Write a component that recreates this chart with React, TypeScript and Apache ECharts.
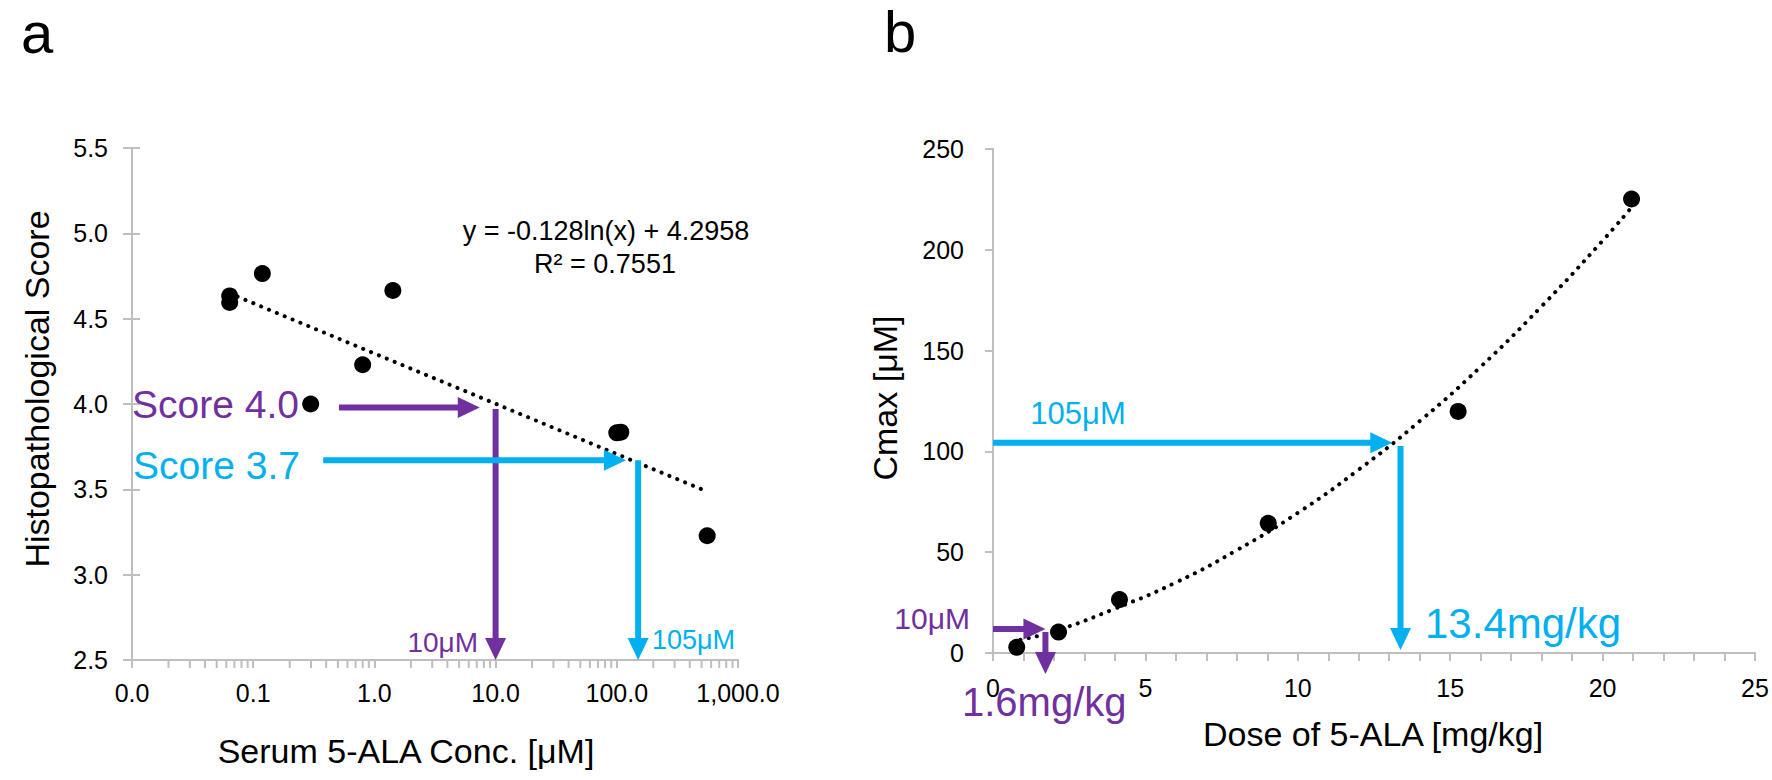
import React, { useEffect, useRef } from "react";
import * as echarts from "echarts";

const PURPLE = "#7030A0";
const BLUE = "#00B0F0";
const AXIS = "#BFBFBF";
const TEXT = "#000000";
const FONT = "'Liberation Sans', Arial, Helvetica, sans-serif";

// ---------- Panel a: Histopathological score vs serum 5-ALA conc. ----------
const concA = [0.064, 0.064, 0.119, 0.298, 0.8, 1.42, 100, 108, 557];
const scoreA = [4.633, 4.595, 4.764, 4.0, 4.23, 4.665, 3.831, 3.835, 3.228];
// logarithmic trend line end points
const trendAX = [0.064, 548];
const trendAY = [4.648, 3.489];
// log axis: decades and minor tick multipliers
const decadesA = [0.01, 0.1, 1, 10, 100];
const minorMultipliers = [2, 3, 4, 5, 6, 7, 8, 9];
const yTicksA = { min: 2.5, max: 5.5, step: 0.5 };
// arrows: [x1, y1, x2, y2]
const purpleArrowsA = [
  [0.51, 3.98, 7.4, 3.98],
  [10, 3.97, 10, 2.5],
];
const blueArrowsA = [
  [0.378, 3.67, 119, 3.67],
  [150, 3.67, 150, 2.5],
];

// ---------- Panel b: Cmax vs dose ----------
const doseB = [0.78, 2.15, 4.15, 9.03, 15.26, 20.95];
const cmaxB = [2.8, 10.4, 26.5, 64.3, 119.8, 225.2];
// polynomial trend curve
const trendBX = [0.9, 2, 4, 6, 8, 10, 12, 14, 16, 18, 20, 21];
const trendBY = [6.6, 10.7, 22, 35, 51, 69.5, 91, 115, 142, 172, 204.5, 222];
const xTicksB = { min: 0, max: 25, step: 5 };
const yTicksB = { min: 0, max: 250, step: 50 };
const purpleArrowsB = [
  [0, 11.9, 1.72, 11.9],
  [1.72, 10.4, 1.72, -10.4],
];
const blueArrowsB = [
  [0, 104.3, 13.1, 104.3],
  [13.37, 102.7, 13.37, 1.5],
];

const zip = (a: number[], b: number[]) => a.map((v, i) => [v, b[i]]);

function arrowRender(color: string) {
  return (_params: any, api: any) => {
    const p1 = api.coord([api.value(0), api.value(1)]);
    const p2 = api.coord([api.value(2), api.value(3)]);
    const dx = p2[0] - p1[0];
    const dy = p2[1] - p1[1];
    const len = Math.hypot(dx, dy) || 1;
    const ux = dx / len;
    const uy = dy / len;
    const nx = -uy;
    const ny = ux;
    const HL = 22;
    const HW = 21;
    const SW = 6;
    const bx = p2[0] - ux * HL;
    const by = p2[1] - uy * HL;
    return {
      type: "group",
      children: [
        {
          type: "line",
          shape: { x1: p1[0], y1: p1[1], x2: bx + ux * 2, y2: by + uy * 2 },
          style: { stroke: color, lineWidth: SW },
        },
        {
          type: "polygon",
          shape: {
            points: [
              [p2[0], p2[1]],
              [bx + (nx * HW) / 2, by + (ny * HW) / 2],
              [bx - (nx * HW) / 2, by - (ny * HW) / 2],
            ],
          },
          style: { fill: color },
        },
      ],
    };
  };
}

const txt = (
  text: string,
  x: number,
  y: number,
  size: number,
  color: string,
  align: string = "left",
  rotation = 0
) => ({
  type: "text",
  x,
  y,
  rotation,
  z: 10,
  style: {
    text,
    x: 0,
    y: 0,
    fill: color,
    fontSize: size,
    fontFamily: FONT,
    align,
    verticalAlign: "middle",
  },
});

const fmtA = (v: number) =>
  Number(v).toLocaleString("en-US", {
    minimumFractionDigits: 1,
    maximumFractionDigits: 1,
  });

export default function App() {
  const ref = useRef<HTMLDivElement>(null);

  useEffect(() => {
    if (!ref.current) return;
    const chart = echarts.init(ref.current, undefined, { renderer: "svg" });

    const axisLine = { show: true, lineStyle: { color: AXIS, width: 2 } };
    const tickStyle = { color: AXIS, width: 2 };
    const labelStyle = { fontSize: 25, fontFamily: FONT, color: TEXT };

    const minorTicksA = decadesA.flatMap((d) =>
      minorMultipliers.map((m) => [m * d, yTicksA.min])
    );

    const dotted = {
      color: "#000",
      width: 4,
      type: [0.1, 8.4],
      cap: "round",
    };

    const dotStyle = { color: "#000", opacity: 1 };

    const option: any = {
      animation: false,
      backgroundColor: "#ffffff",
      grid: [
        { left: 132, top: 148, width: 606, height: 512, outerBoundsMode: "none" },
        { left: 993, top: 149, width: 762, height: 504, outerBoundsMode: "none" },
      ],
      xAxis: [
        {
          gridIndex: 0,
          type: "log",
          logBase: 10,
          min: 0.01,
          max: 1000,
          axisLine,
          axisTick: { show: true, length: 8, lineStyle: tickStyle },
          axisLabel: { ...labelStyle, margin: 20, formatter: fmtA },
          splitLine: { show: false },
        },
        {
          gridIndex: 1,
          type: "value",
          min: xTicksB.min,
          max: xTicksB.max,
          interval: xTicksB.step,
          axisLine,
          axisTick: { show: true, length: 8, lineStyle: tickStyle },
          minorTick: { show: true, splitNumber: 5, length: 8, lineStyle: tickStyle },
          axisLabel: { ...labelStyle, margin: 22 },
          splitLine: { show: false },
          minorSplitLine: { show: false },
        },
      ],
      yAxis: [
        {
          gridIndex: 0,
          type: "value",
          position: "left",
          min: yTicksA.min,
          max: yTicksA.max,
          interval: yTicksA.step,
          axisLine,
          axisTick: { show: true, length: 9, lineStyle: tickStyle },
          axisLabel: {
            ...labelStyle,
            margin: 24,
            formatter: (v: number) => v.toFixed(1),
          },
          splitLine: { show: false },
        },
        {
          gridIndex: 0,
          type: "value",
          position: "left",
          offset: 0,
          min: yTicksA.min,
          max: yTicksA.max,
          interval: yTicksA.step,
          axisLine: { show: false },
          axisTick: { show: true, inside: true, length: 8, lineStyle: tickStyle },
          axisLabel: { show: false },
          splitLine: { show: false },
        },
        {
          gridIndex: 1,
          type: "value",
          min: yTicksB.min,
          max: yTicksB.max,
          interval: yTicksB.step,
          axisLine,
          axisTick: { show: true, length: 8, lineStyle: tickStyle },
          axisLabel: { ...labelStyle, margin: 29 },
          splitLine: { show: false },
        },
      ],
      series: [
        {
          type: "custom",
          xAxisIndex: 0,
          yAxisIndex: 0,
          silent: true,
          clip: false,
          encode: { x: 0, y: 1 },
          data: minorTicksA,
          renderItem: (_p: any, api: any) => {
            const p = api.coord([api.value(0), api.value(1)]);
            return {
              type: "line",
              shape: { x1: p[0], y1: p[1], x2: p[0], y2: p[1] + 8 },
              style: { stroke: AXIS, lineWidth: 2 },
            };
          },
        },
        {
          type: "line",
          xAxisIndex: 0,
          yAxisIndex: 0,
          data: zip(trendAX, trendAY),
          symbol: "none",
          lineStyle: dotted,
          z: 2,
          silent: true,
        },
        {
          type: "scatter",
          xAxisIndex: 0,
          yAxisIndex: 0,
          data: zip(concA, scoreA),
          symbolSize: 17,
          itemStyle: dotStyle,
          z: 3,
        },
        {
          type: "custom",
          xAxisIndex: 0,
          yAxisIndex: 0,
          clip: false,
          silent: true,
          z: 5,
          encode: { x: [0, 2], y: [1, 3] },
          data: purpleArrowsA,
          renderItem: arrowRender(PURPLE),
        },
        {
          type: "custom",
          xAxisIndex: 0,
          yAxisIndex: 0,
          clip: false,
          silent: true,
          z: 5,
          encode: { x: [0, 2], y: [1, 3] },
          data: blueArrowsA,
          renderItem: arrowRender(BLUE),
        },
        {
          type: "line",
          xAxisIndex: 1,
          yAxisIndex: 2,
          data: zip(trendBX, trendBY),
          symbol: "none",
          smooth: true,
          lineStyle: dotted,
          z: 2,
          silent: true,
        },
        {
          type: "scatter",
          xAxisIndex: 1,
          yAxisIndex: 2,
          data: zip(doseB, cmaxB),
          symbolSize: 17,
          itemStyle: dotStyle,
          z: 3,
        },
        {
          type: "custom",
          xAxisIndex: 1,
          yAxisIndex: 2,
          clip: false,
          silent: true,
          z: 5,
          encode: { x: [0, 2], y: [1, 3] },
          data: purpleArrowsB,
          renderItem: arrowRender(PURPLE),
        },
        {
          type: "custom",
          xAxisIndex: 1,
          yAxisIndex: 2,
          clip: false,
          silent: true,
          z: 5,
          encode: { x: [0, 2], y: [1, 3] },
          data: blueArrowsB,
          renderItem: arrowRender(BLUE),
        },
      ],
      graphic: [
        txt("a", 21, 32, 58, "#000"),
        txt("b", 884, 31, 58, "#000"),
        txt("Histopathological Score", 37, 389, 34, "#000", "center", Math.PI / 2),
        txt("Serum 5-ALA Conc. [μM]", 406, 751, 34, "#000", "center"),
        txt("Cmax [μM]", 885, 398, 34, "#000", "center", Math.PI / 2),
        txt("Dose of 5-ALA [mg/kg]", 1373, 734, 34, "#000", "center"),
        txt("y = -0.128ln(x) + 4.2958", 606, 231, 27, "#000", "center"),
        txt("R² = 0.7551", 605, 264, 27, "#000", "center"),
        txt("Score 4.0", 132, 404, 39, PURPLE),
        txt("Score 3.7", 133, 465, 39, BLUE),
        txt("10μM", 478, 642, 28, PURPLE, "right"),
        txt("105μM", 652, 640, 27, BLUE),
        txt("105μM", 1078, 413, 31, BLUE, "center"),
        txt("13.4mg/kg", 1425, 623, 42, BLUE),
        txt("10μM", 970, 618, 30, PURPLE, "right"),
        txt("1.6mg/kg", 962, 702, 40, PURPLE),
      ],
    };

    chart.setOption(option);
    return () => chart.dispose();
  }, []);

  return (
    <div
      ref={ref}
      style={{
        position: "fixed",
        left: 0,
        top: 0,
        width: 1772,
        height: 780,
        background: "#fff",
      }}
    />
  );
}
